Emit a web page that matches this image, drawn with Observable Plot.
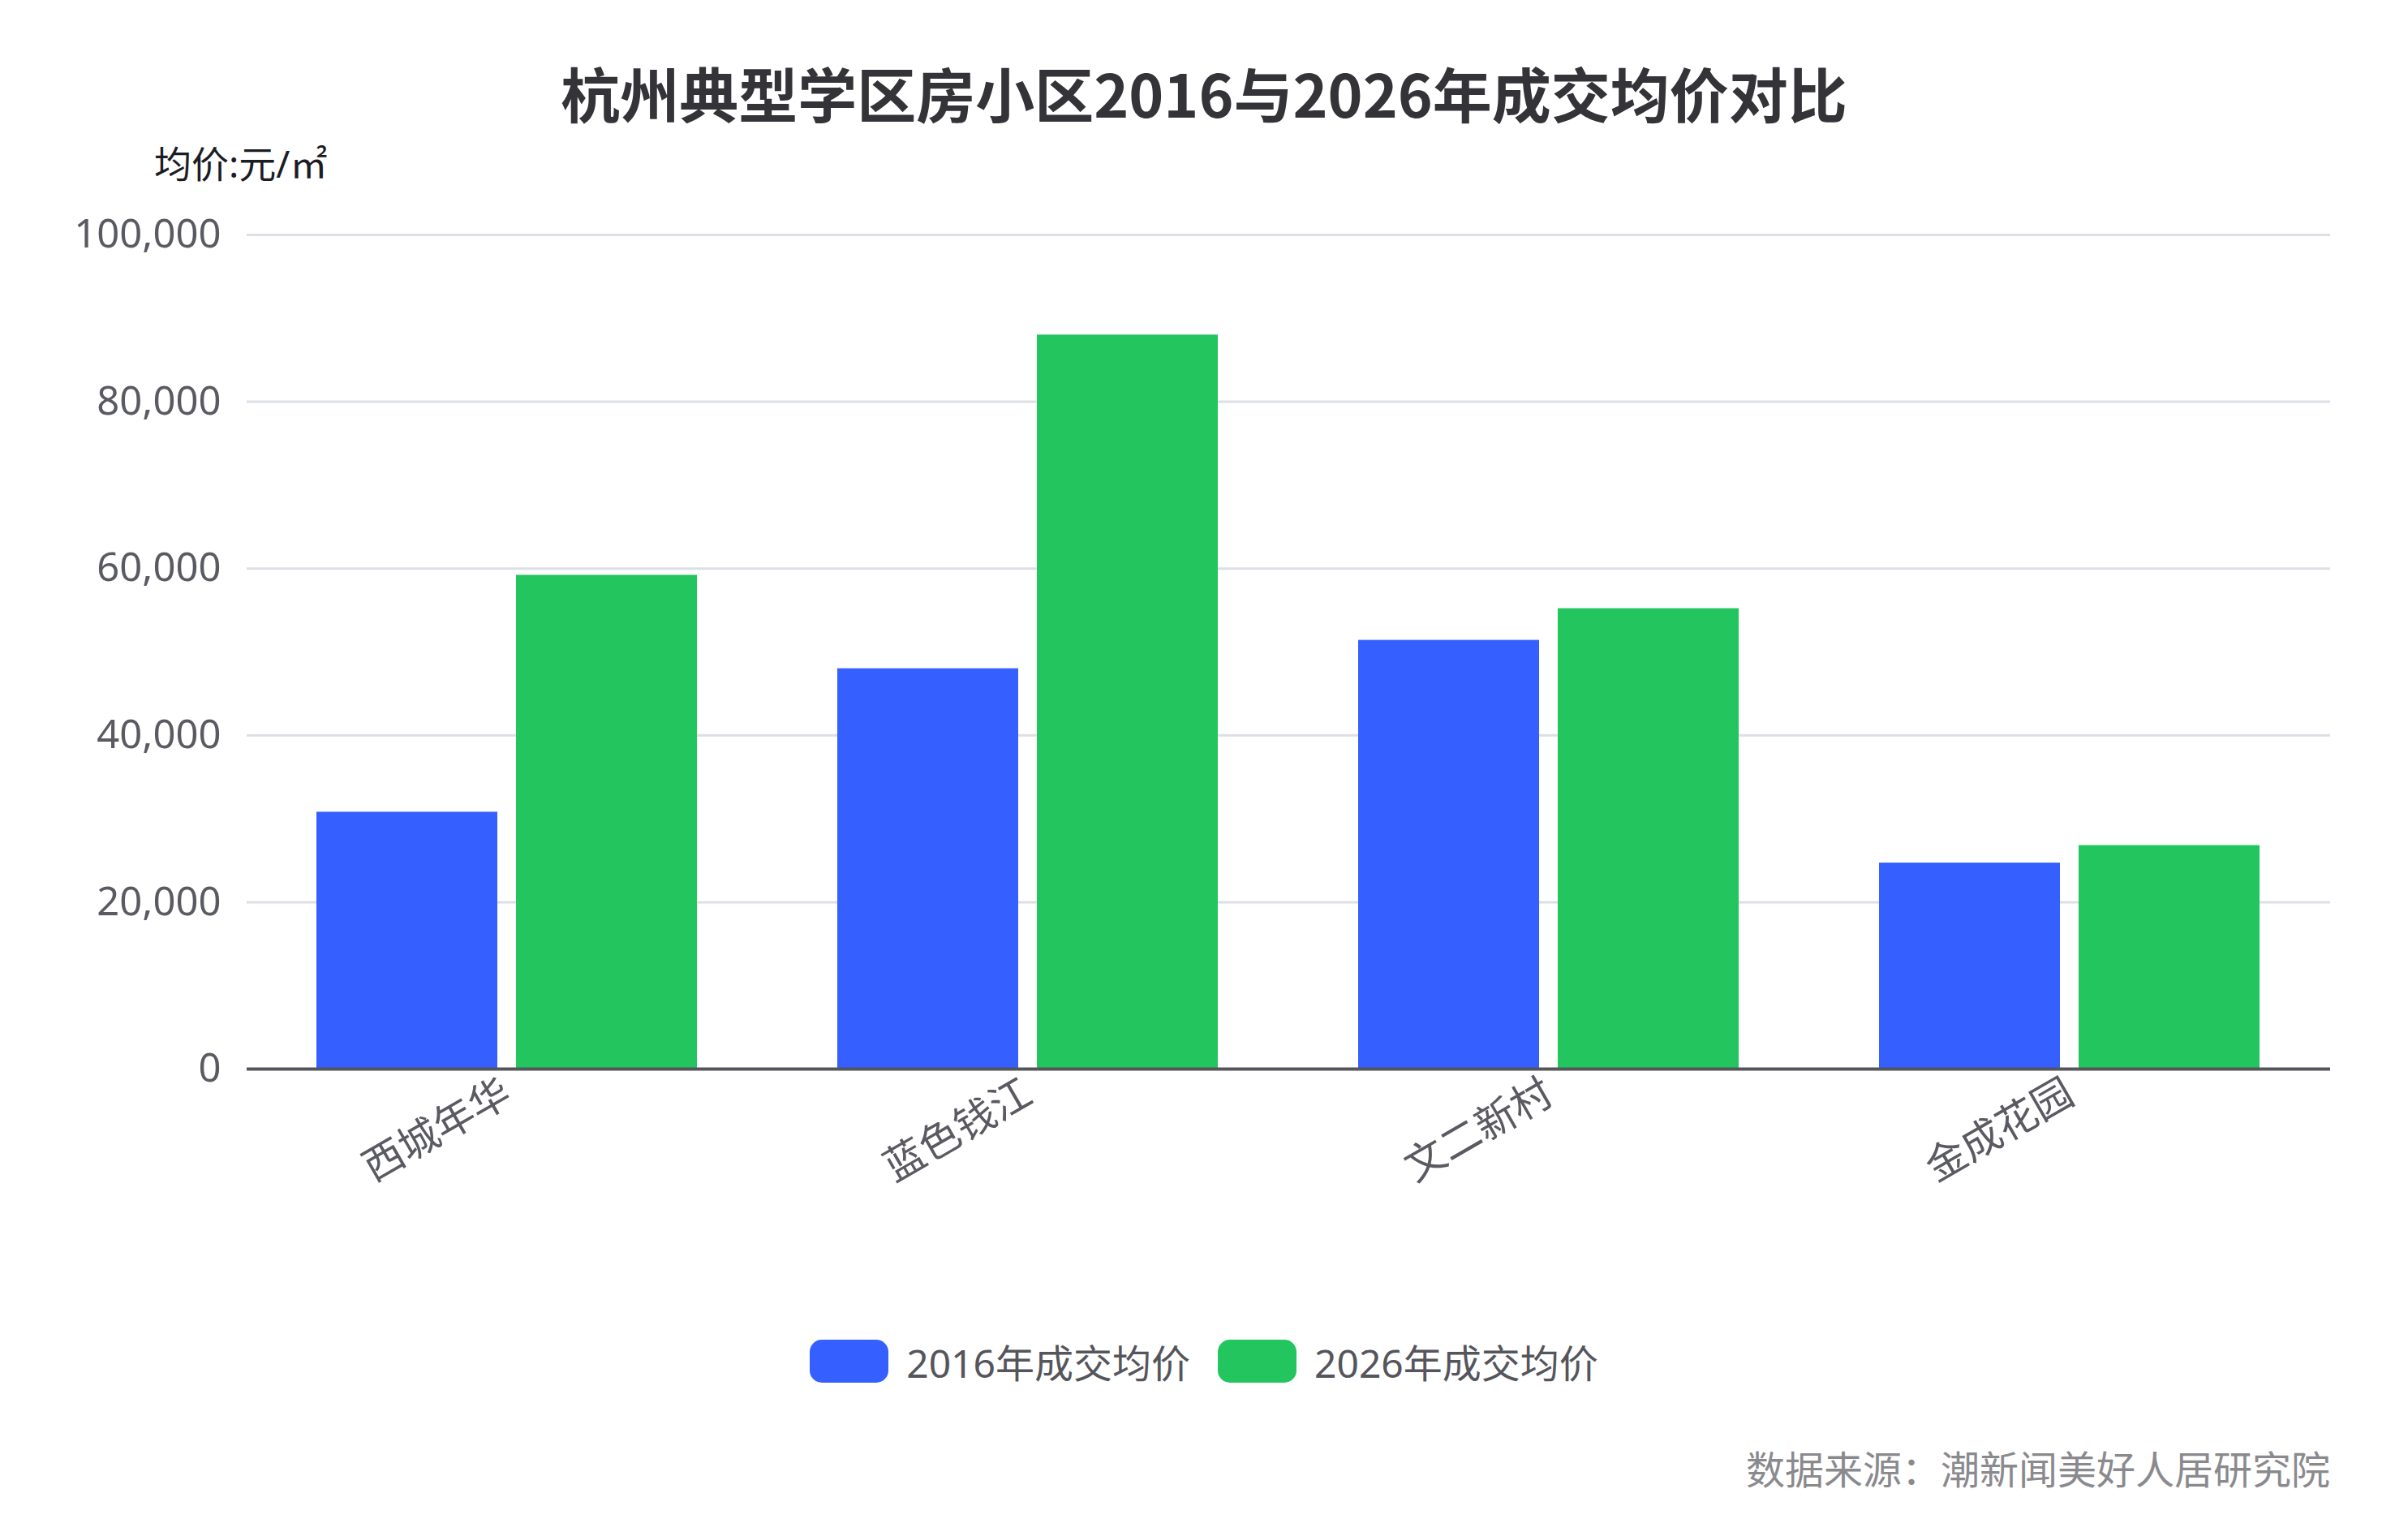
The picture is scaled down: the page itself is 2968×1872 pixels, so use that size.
<!DOCTYPE html>
<html>
<head>
<meta charset="utf-8">
<script src="https://cdn.jsdelivr.net/npm/d3@7"></script>
<script src="https://cdn.jsdelivr.net/npm/@observablehq/plot@0.6"></script>
<style>
  html, body { margin: 0; padding: 0; background: #fff; }
  #root { position: relative; width: 2968px; height: 1872px; background: #fff; overflow: hidden;
          font-family: "Noto Sans", "Noto Sans CJK SC", sans-serif; }
  #title { position: absolute; left: 0; width: 2968px; top: 68px; line-height: 90px; text-align: center;
           font-size: 73px; font-weight: bold; color: #333338; font-family: "Noto Sans CJK SC", "Noto Sans", sans-serif; }
  #ylabel { position: absolute; left: 190px; top: 172px; line-height: 58px; font-size: 46px; color: #1c1c24; }
  #chart { position: absolute; left: 0; top: 220px; }
  #legend { position: absolute; left: 0; width: 2968px; top: 1650px; height: 54px; display: flex;
            justify-content: center; align-items: center; font-size: 48px; color: #55555c; }
  .item { display: flex; align-items: center; margin: 0 17px; }
  .sw { width: 97px; height: 53px; border-radius: 15px; margin-right: 22px; }
  #caption { position: absolute; right: 96px; top: 1778px; line-height: 60px; font-size: 48px; color: #8a8a8e;
             font-family: "Noto Sans CJK SC", "Noto Sans", sans-serif; }
</style>
</head>
<body>
<div id="root">
  <div id="title"></div>
  <div id="ylabel"></div>
  <div id="chart"></div>
  <div id="legend"></div>
  <div id="caption"></div>
</div>
<script>
const titleText = "杭州典型学区房小区2016与2026年成交均价对比";
const yLabelText = "均价:元/㎡";
const captionText = "数据来源：潮新闻美好人居研究院";
const categories = ["西城年华", "蓝色钱江", "文二新村", "金成花园"];
const seriesNames = ["2016年成交均价", "2026年成交均价"];
const seriesColors = ["#3560ff", "#22c55e"];
const values2016 = [30800, 48000, 51400, 24700];
const values2026 = [59200, 88000, 55200, 26800];
const yTicks = [0, 20000, 40000, 60000, 80000, 100000];

const data = [];
categories.forEach((c, i) => {
  data.push({category: c, series: seriesNames[0], value: values2016[i]});
  data.push({category: c, series: seriesNames[1], value: values2026[i]});
});

document.getElementById("title").textContent = titleText;
document.getElementById("ylabel").textContent = yLabelText;
document.getElementById("caption").textContent = captionText;

const legend = document.getElementById("legend");
seriesNames.forEach((s, i) => {
  const item = document.createElement("div");
  item.className = "item";
  const sw = document.createElement("div");
  sw.className = "sw";
  sw.style.background = seriesColors[i];
  const t = document.createElement("span");
  t.textContent = s;
  item.appendChild(sw);
  item.appendChild(t);
  legend.appendChild(item);
});

const chart = Plot.plot({
  width: 2968,
  height: 1300,
  marginTop: 69,
  marginBottom: 203,
  marginLeft: 303,
  marginRight: 96,
  style: {
    fontFamily: "'Noto Sans','Noto Sans CJK SC',sans-serif",
    fontSize: "49px",
    color: "#5a5a62",
    background: "transparent",
    overflow: "visible"
  },
  fx: {domain: categories, padding: 0, label: null},
  x: {domain: seriesNames, paddingInner: 0.092, paddingOuter: 0.35, axis: null},
  y: {domain: [0, 100000], label: null},
  color: {domain: seriesNames, range: seriesColors},
  marks: [
    Plot.gridY(yTicks, {stroke: "#dcdfe6", strokeOpacity: 1, strokeWidth: 3}),
    Plot.axisY(yTicks, {tickSize: 0, tickPadding: 32, tickFormat: d3.format(","), fontSize: 49, label: null}),
    Plot.barY(data, {fx: "category", x: "series", y: "value", fill: "series"}),
    Plot.ruleY([0], {stroke: "#55555c", strokeWidth: 4}),
    Plot.axisFx({anchor: "bottom", tickSize: 0, tickPadding: 26, tickRotate: -30, fontSize: 50, label: null})
  ]
});
document.getElementById("chart").appendChild(chart);
</script>
</body>
</html>
